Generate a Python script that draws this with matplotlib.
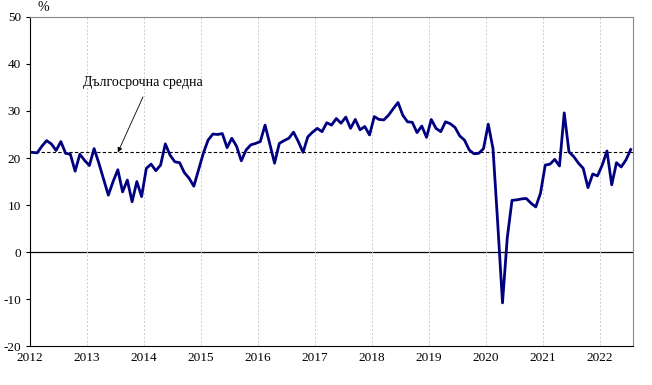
import numpy as np
import matplotlib.pyplot as plt

# monthly values, Jan 2012 - Jul 2022
values = [
    21.2, 21.1, 22.5, 23.7, 23.0, 21.6, 23.5, 21.0, 20.8, 17.2,   # 2012
    20.8, 19.5,
    18.4, 22.0, 18.9, 15.5, 12.1, 15.0, 17.5, 12.8, 15.3, 10.7,   # 2013
    15.0, 11.8,
    17.8, 18.7, 17.3, 18.5, 23.0, 20.6, 19.2, 19.0, 16.9, 15.7,   # 2014
    14.0, 17.5,
    21.0, 23.8, 25.1, 25.0, 25.2, 22.2, 24.2, 22.5, 19.4, 21.7,   # 2015
    22.8, 23.1,
    23.5, 27.0, 23.0, 18.9, 23.1, 23.7, 24.2, 25.5, 23.5, 21.2,   # 2016
    24.5, 25.5,
    26.3, 25.6, 27.5, 27.0, 28.4, 27.4, 28.7, 26.3, 28.2, 26.0,   # 2017
    26.7, 24.9,
    28.8, 28.2, 28.1, 29.1, 30.5, 31.8, 29.1, 27.7, 27.6, 25.4,   # 2018
    26.8, 24.4,
    28.2, 26.3, 25.6, 27.7, 27.3, 26.5, 24.7, 23.8, 21.7, 20.9,   # 2019
    21.0, 22.0,
    27.2, 22.0, 6.0, -10.8, 3.0, 11.0, 11.1, 11.3, 11.4, 10.4,    # 2020
    9.6, 12.5,
    18.5, 18.7, 19.7, 18.3, 29.6, 21.3, 20.3, 18.9, 17.8, 13.7,   # 2021
    16.6, 16.2,
    18.5, 21.5, 14.3, 19.0, 18.1, 19.6, 21.8,                     # 2022
]
long_term_avg = 21.2
years = ['2012', '2013', '2014', '2015', '2016', '2017', '2018', '2019', '2020', '2021', '2022']

plt.rcParams['font.family'] = ['Liberation Serif', 'DejaVu Serif']
plt.rcParams['axes.unicode_minus'] = False

fig = plt.figure(figsize=(6.52, 3.85), dpi=100)
ax = fig.add_axes([0.046, 0.101, 0.925, 0.855])

n = len(values)
x = np.arange(n) + 0.5
ax.axhline(0, color='black', lw=0.9, zorder=1)
ax.axhline(long_term_avg, color='black', lw=0.8, ls=(0, (3, 2)), zorder=2)
ax.plot(x, values, color='#000080', lw=2.0, zorder=3)

ax.set_xlim(0, n)
ax.set_ylim(-20, 50)
ax.set_yticks(range(-20, 51, 10))
ax.set_xticks(np.arange(len(years)) * 12)
ax.set_xticklabels(years)
ax.tick_params(axis='both', labelsize=9.5, length=3, width=0.8, color='black')
ax.tick_params(axis='x', length=0, pad=4)
ax.grid(axis='x', color='#cccccc', ls=(0, (2, 2)), lw=0.7)

for s in ['top', 'right']:
    ax.spines[s].set_color('#888888')
for s in ['left', 'bottom']:
    ax.spines[s].set_color('black')

ax.text(0.012, 1.03, '%', transform=ax.transAxes, fontsize=10, ha='left', va='center')

# long-term average label and arrow
ax.text(23.8, 36, 'Дългосрочна средна', ha='center', va='center', fontsize=10)
ax.annotate('', xy=(18.5, long_term_avg), xytext=(23.8, 33),
            arrowprops=dict(arrowstyle='-|>', color='black', lw=0.6,
                            mutation_scale=7, shrinkA=0, shrinkB=0))

fig.savefig('out.png', dpi=100)
